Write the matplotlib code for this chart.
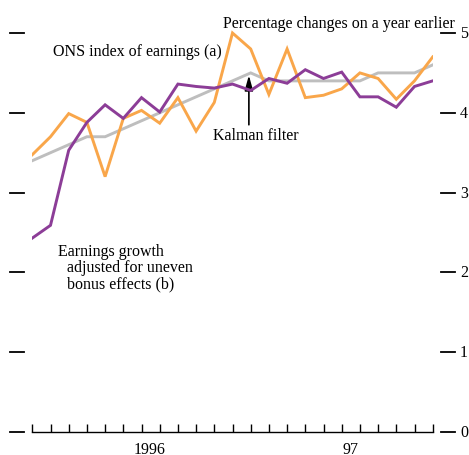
import matplotlib
matplotlib.use("Agg")
import matplotlib.pyplot as plt
import matplotlib.transforms as mtransforms

months = list(range(23))
ons_index = [3.475, 3.70, 3.99, 3.88, 3.20, 3.93, 4.03, 3.87, 4.19, 3.77, 4.13, 5.00,
             4.80, 4.23, 4.80, 4.19, 4.22, 4.30, 4.50, 4.43, 4.17, 4.40, 4.70]
adjusted = [2.43, 2.59, 3.53, 3.88, 4.10, 3.93, 4.19, 4.01, 4.36, 4.33, 4.31, 4.36,
            4.28, 4.43, 4.37, 4.54, 4.43, 4.51, 4.20, 4.20, 4.07, 4.33, 4.40]
kalman = [3.40, 3.50, 3.60, 3.70, 3.70, 3.80, 3.90, 4.00, 4.10, 4.20, 4.30, 4.40,
          4.50, 4.40, 4.40, 4.40, 4.40, 4.40, 4.40, 4.50, 4.50, 4.50, 4.60]
year_labels = ["1996", "97"]
year_label_pos = [6.47, 17.46]
yticks = [0, 1, 2, 3, 4, 5]

plt.rcParams['font.family'] = ['Liberation Serif', 'DejaVu Serif']

W, H = 469, 456
fig = plt.figure(figsize=(W / 100, H / 100), dpi=100)
ax = fig.add_axes([32.3 / W, (H - 433) / H, 400.4 / W, 5.2 * 79.8 / H])
ax.set_xlim(0, 22)
ax.set_ylim(0, 5.2)

lw = 2.1
ax.plot(months, kalman, color='#BEBEBE', lw=lw, solid_joinstyle='miter', zorder=2)
ax.plot(months, ons_index, color='#F9A64A', lw=lw, solid_joinstyle='miter', zorder=3)
ax.plot(months, adjusted, color='#8C3D97', lw=lw, solid_joinstyle='miter', zorder=4)

for s in ['top', 'left', 'right']:
    ax.spines[s].set_visible(False)
ax.spines['bottom'].set_linewidth(1.0)

ax.set_yticks([])
ax.set_xticks(range(23))
ax.set_xticklabels([])
ax.tick_params(axis='x', direction='in', length=6, width=1.0, bottom=True)
ax.set_xticks([0, 12], minor=True)
ax.tick_params(axis='x', which='minor', direction='in', length=12, width=1.3)

trans = mtransforms.blended_transform_factory(fig.transFigure, ax.transData)
for v in yticks:
    fig.add_artist(plt.Line2D([10 / W, 24 / W], [v, v], transform=trans,
                              color='black', lw=1.3))
    fig.add_artist(plt.Line2D([441 / W, 455 / W], [v, v], transform=trans,
                              color='black', lw=1.3))
    fig.text(460 / W, v, str(v), transform=trans, ha='left', va='center', fontsize=11.5)

for lab, pos in zip(year_labels, year_label_pos):
    fig.text((32.3 + 18.2 * pos) / W, 1 - 442 / H, lab, ha='center', va='top', fontsize=11.5)

fs = 11.5
fig.text(455 / W, 1 - 24 / H, "Percentage changes on a year earlier", ha='right', va='center', fontsize=fs)
fig.text(53 / W, 1 - 52 / H, "ONS index of earnings (a)", ha='left', va='center', fontsize=fs)
fig.text(213 / W, 1 - 136 / H, "Kalman filter", ha='left', va='center', fontsize=fs)
fig.text(58 / W, 1 - 252 / H, "Earnings growth", ha='left', va='center', fontsize=fs)
fig.text(67 / W, 1 - 268 / H, "adjusted for uneven", ha='left', va='center', fontsize=fs)
fig.text(67 / W, 1 - 284 / H, "bonus effects (b)", ha='left', va='center', fontsize=fs)

ax.annotate("", xy=(11.9, 4.47), xytext=(11.9, 3.85),
            arrowprops=dict(arrowstyle='-|>,head_length=0.9,head_width=0.25', color='black', lw=1.2,
                            mutation_scale=10, shrinkA=0, shrinkB=0))

fig.savefig("out.png", dpi=100)
